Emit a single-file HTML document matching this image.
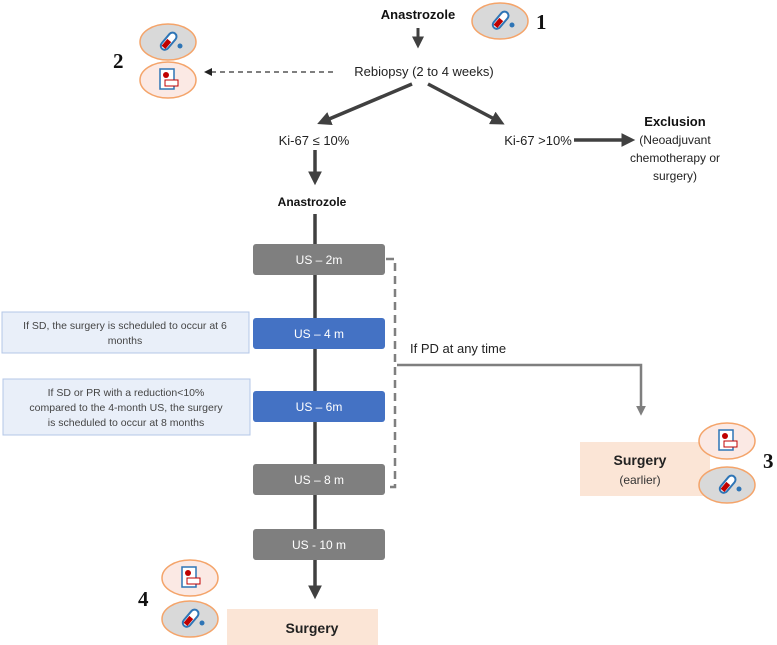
<!DOCTYPE html>
<html><head><meta charset="utf-8"><style>
body{margin:0;background:#fff}
svg{display:block}
.s{font-family:"Liberation Sans",sans-serif}
.n{font-family:"Liberation Serif",serif;font-weight:bold;font-size:21px}
</style></head><body>
<svg width="777" height="645" viewBox="0 0 777 645" xmlns="http://www.w3.org/2000/svg">
<defs>
<marker id="ah" markerWidth="4" markerHeight="4" refX="2.5" refY="2" orient="auto" markerUnits="strokeWidth"><path d="M0,0 L4,2 L0,4 z" fill="#404040"/></marker>
<marker id="ahg" markerWidth="4" markerHeight="4" refX="2.5" refY="2" orient="auto" markerUnits="strokeWidth"><path d="M0,0 L4,2 L0,4 z" fill="#7f7f7f"/></marker>
<marker id="ahs" markerWidth="8" markerHeight="8" refX="4" refY="4" orient="auto" markerUnits="userSpaceOnUse"><path d="M0,0 L8,4 L0,8 z" fill="#222"/></marker>
<g id="tube"><ellipse cx="0" cy="0" rx="28" ry="18" fill="#d9d9d9" stroke="#f4a46a" stroke-width="1.5"/>
<g transform="rotate(40)"><rect x="-4" y="-11" width="8" height="20" rx="4" fill="#fff" stroke="#2e75b6" stroke-width="2"/><rect x="-2.5" y="-2" width="5" height="9" fill="#c00000"/></g><circle cx="12" cy="4" r="2.5" fill="#2e75b6"/></g>
<g id="doc"><ellipse cx="0" cy="0" rx="28" ry="18" fill="#fbe9e4" stroke="#f4a46a" stroke-width="1.5"/>
<rect x="-8" y="-11" width="14" height="20" fill="#fff" stroke="#2e75b6" stroke-width="1.5"/><circle cx="-2" cy="-5" r="3" fill="#c00000"/><rect x="-3" y="0" width="13" height="6" fill="#fff" stroke="#c00000" stroke-width="1"/></g>
</defs>
<g class="s">
<text x="418" y="19" text-anchor="middle" font-size="13" font-weight="bold" fill="#111">Anastrozole</text>
<use href="#tube" x="500" y="21"/>
<text x="536" y="29" class="n" fill="#111">1</text>
<line x1="418" y1="28" x2="418" y2="44" stroke="#404040" stroke-width="3" marker-end="url(#ah)"/>
<text x="424" y="76" text-anchor="middle" font-size="13" fill="#222">Rebiopsy (2 to 4 weeks)</text>
<line x1="333" y1="72" x2="208" y2="72" stroke="#333" stroke-width="1.2" stroke-dasharray="5,4" marker-end="url(#ahs)"/>
<text x="113" y="68" class="n" fill="#111">2</text>
<use href="#tube" x="168" y="42"/>
<use href="#doc" x="168" y="80"/>

<line x1="412" y1="84" x2="322" y2="122" stroke="#404040" stroke-width="3.5" marker-end="url(#ah)"/>
<line x1="428" y1="84" x2="500" y2="122" stroke="#404040" stroke-width="3.5" marker-end="url(#ah)"/>
<text x="314" y="145" text-anchor="middle" font-size="13" fill="#222">Ki-67 ≤ 10%</text>
<text x="538" y="145" text-anchor="middle" font-size="13" fill="#222">Ki-67 &gt;10%</text>
<line x1="574" y1="140" x2="630" y2="140" stroke="#404040" stroke-width="3.5" marker-end="url(#ah)"/>
<text x="675" y="126" text-anchor="middle" font-size="13" font-weight="bold" fill="#111">Exclusion</text>
<text x="675" y="144" text-anchor="middle" font-size="12" fill="#222">(Neoadjuvant</text>
<text x="675" y="162" text-anchor="middle" font-size="12" fill="#222">chemotherapy or</text>
<text x="675" y="180" text-anchor="middle" font-size="12" fill="#222">surgery)</text>
<line x1="315" y1="150" x2="315" y2="180" stroke="#404040" stroke-width="3.5" marker-end="url(#ah)"/>
<text x="312" y="206" text-anchor="middle" font-size="12" font-weight="bold" fill="#111">Anastrozole</text>

<line x1="315" y1="214" x2="315" y2="594" stroke="#404040" stroke-width="3.5" marker-end="url(#ah)"/>

<path d="M386,259 H395 V487 H386" fill="none" stroke="#7f7f7f" stroke-width="2.5" stroke-dasharray="8,5"/>
<polyline points="397,365 641,365 641,412" fill="none" stroke="#7f7f7f" stroke-width="2.5" marker-end="url(#ahg)"/>
<text x="410" y="353" font-size="13" fill="#222">If PD at any time</text>

<rect x="253" y="244" width="132" height="31" rx="3" fill="#7f7f7f"/>
<text x="319" y="264" text-anchor="middle" font-size="12" fill="#fff">US – 2m</text>
<rect x="253" y="318" width="132" height="31" rx="3" fill="#4472c4"/>
<text x="319" y="338" text-anchor="middle" font-size="12" fill="#fff">US – 4 m</text>
<rect x="253" y="391" width="132" height="31" rx="3" fill="#4472c4"/>
<text x="319" y="411" text-anchor="middle" font-size="12" fill="#fff">US – 6m</text>
<rect x="253" y="464" width="132" height="31" rx="3" fill="#7f7f7f"/>
<text x="319" y="484" text-anchor="middle" font-size="12" fill="#fff">US – 8 m</text>
<rect x="253" y="529" width="132" height="31" rx="3" fill="#7f7f7f"/>
<text x="319" y="549" text-anchor="middle" font-size="12" fill="#fff">US  - 10 m</text>

<rect x="2" y="312" width="247" height="41" fill="#e9eff9" stroke="#b4c7e7"/>
<text x="125" y="329" text-anchor="middle" font-size="10.5" fill="#444">If SD, the surgery is scheduled to occur at 6</text>
<text x="125" y="344" text-anchor="middle" font-size="10.5" fill="#444">months</text>
<rect x="3" y="379" width="247" height="56" fill="#e9eff9" stroke="#b4c7e7"/>
<text x="126" y="396" text-anchor="middle" font-size="10.5" fill="#444">If SD or PR with a reduction&lt;10%</text>
<text x="126" y="411" text-anchor="middle" font-size="10.5" fill="#444">compared to the 4-month US, the surgery</text>
<text x="126" y="426" text-anchor="middle" font-size="10.5" fill="#444">is scheduled to occur at 8 months</text>

<rect x="580" y="442" width="130" height="54" fill="#fbe5d6"/>
<text x="640" y="465" text-anchor="middle" font-size="14" font-weight="bold" fill="#222">Surgery</text>
<text x="640" y="484" text-anchor="middle" font-size="12" fill="#333">(earlier)</text>
<use href="#doc" x="727" y="441"/>
<use href="#tube" x="727" y="485"/>
<text x="763" y="468" class="n" fill="#111">3</text>

<rect x="227" y="609" width="151" height="36" fill="#fbe5d6"/>
<text x="312" y="633" text-anchor="middle" font-size="14" font-weight="bold" fill="#222">Surgery</text>
<use href="#doc" x="190" y="578"/>
<use href="#tube" x="190" y="619"/>
<text x="138" y="606" class="n" fill="#111">4</text>
</g>
</svg>
</body></html>
